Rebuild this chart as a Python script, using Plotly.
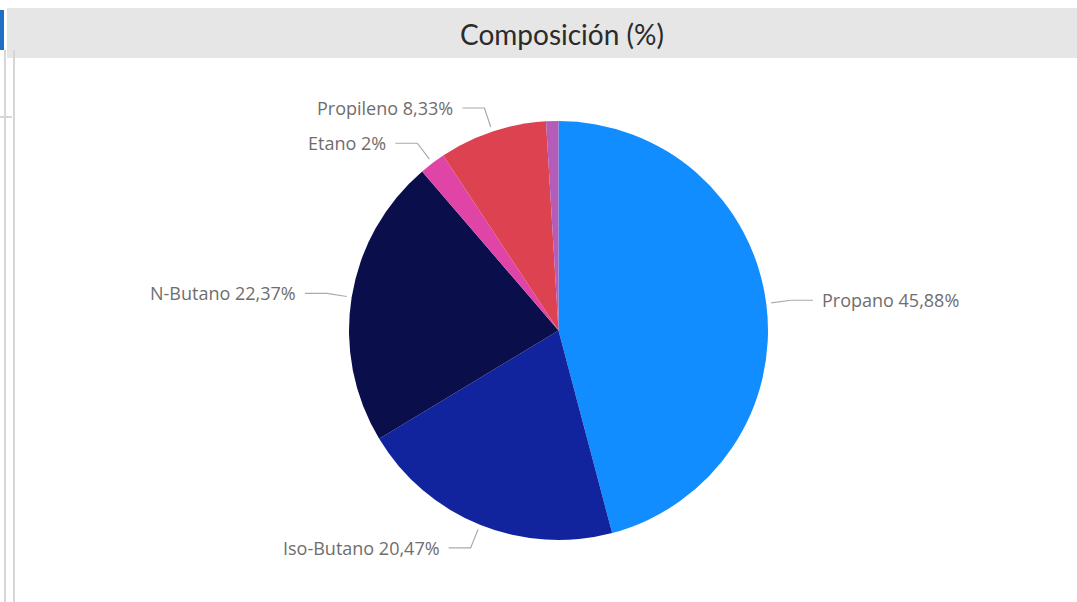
import math
import plotly.graph_objects as go

# ---- data ----
categories = ["Propano", "Iso-Butano", "N-Butano", "Etano", "Propileno", "Otros"]
values = [45.88, 20.47, 22.37, 2.0, 8.33, 0.95]
show_label = [True, True, True, True, True, False]
colors = ["#118DFF", "#12239E", "#0A0F4C", "#E044A7", "#DC4250", "#B35CB8"]
title_text = "Composición (%)"

W, H = 1077, 602
CX, CY, R = 558.5, 330.5, 209.5

def px(x):
    return x / W

def py(y):
    return 1 - y / H

def fmt(v):
    return f"{v:g}".replace(".", ",") + "%"

fig = go.Figure()
fig.add_trace(go.Pie(
    labels=categories,
    values=values,
    sort=False,
    direction="clockwise",
    rotation=0,
    marker=dict(colors=colors, line=dict(width=0)),
    textinfo="none",
    hoverinfo="skip",
    showlegend=False,
    domain=dict(x=[px(CX - R), px(CX + R)], y=[py(CY + R), py(CY - R)]),
))

shapes = []
annotations = []

# title bar
shapes.append(dict(type="rect", xref="paper", yref="paper",
                   x0=px(7), x1=1.0, y0=py(58), y1=py(8),
                   fillcolor="#E6E6E6", line=dict(width=0), layer="below"))
annotations.append(dict(text=title_text, xref="paper", yref="paper",
                        x=px(562), y=py(34), showarrow=False,
                        font=dict(family="Lato, Open Sans, sans-serif", size=28, color="#2B2B2B"),
                        xanchor="center", yanchor="middle"))
# left edge artifacts
shapes.append(dict(type="rect", xref="paper", yref="paper",
                   x0=0, x1=px(4), y0=py(50), y1=py(10),
                   fillcolor="#1F6FC5", line=dict(width=0)))
shapes.append(dict(type="line", xref="paper", yref="paper",
                   x0=px(5), x1=px(5), y0=0, y1=py(50),
                   line=dict(color="#D6D6D6", width=2)))
shapes.append(dict(type="line", xref="paper", yref="paper",
                   x0=px(14), x1=px(14), y0=0, y1=py(50),
                   line=dict(color="#D6D6D6", width=2)))
shapes.append(dict(type="line", xref="paper", yref="paper",
                   x0=0, x1=px(12), y0=py(117), y1=py(117),
                   line=dict(color="#D6D6D6", width=2)))

# leader lines + labels (computed from data angles)
total = sum(values)
cum = 0.0
for name, v, show in zip(categories, values, show_label):
    mid = (cum + v / 2) / total * 2 * math.pi
    cum += v
    if not show:
        continue
    ux, uy = math.sin(mid), -math.cos(mid)
    x1, y1 = CX + (R + 5) * ux, CY + (R + 5) * uy
    x2, y2 = CX + (R + 25) * ux, CY + (R + 25) * uy
    side = 1 if ux >= 0 else -1
    x3 = x2 + side * 22
    shapes.append(dict(type="path", xref="paper", yref="paper",
                       path=f"M {px(x1)},{py(y1)} L {px(x2)},{py(y2)} L {px(x3)},{py(y2)}",
                       line=dict(color="#AAAAAA", width=1.2)))
    annotations.append(dict(text=f"{name} {fmt(v)}", xref="paper", yref="paper",
                            x=px(x3 + side * 7), y=py(y2), showarrow=False,
                            xanchor="left" if side > 0 else "right", yanchor="middle",
                            font=dict(family="Open Sans, sans-serif", size=18, color="#6E6E6E")))

fig.update_layout(
    width=W, height=H,
    margin=dict(l=0, r=0, t=0, b=0),
    paper_bgcolor="white",
    plot_bgcolor="white",
    shapes=shapes,
    annotations=annotations,
)

fig.write_html("out.html", config={"displayModeBar": False},
               post_script="document.body.style.margin='0px';")
